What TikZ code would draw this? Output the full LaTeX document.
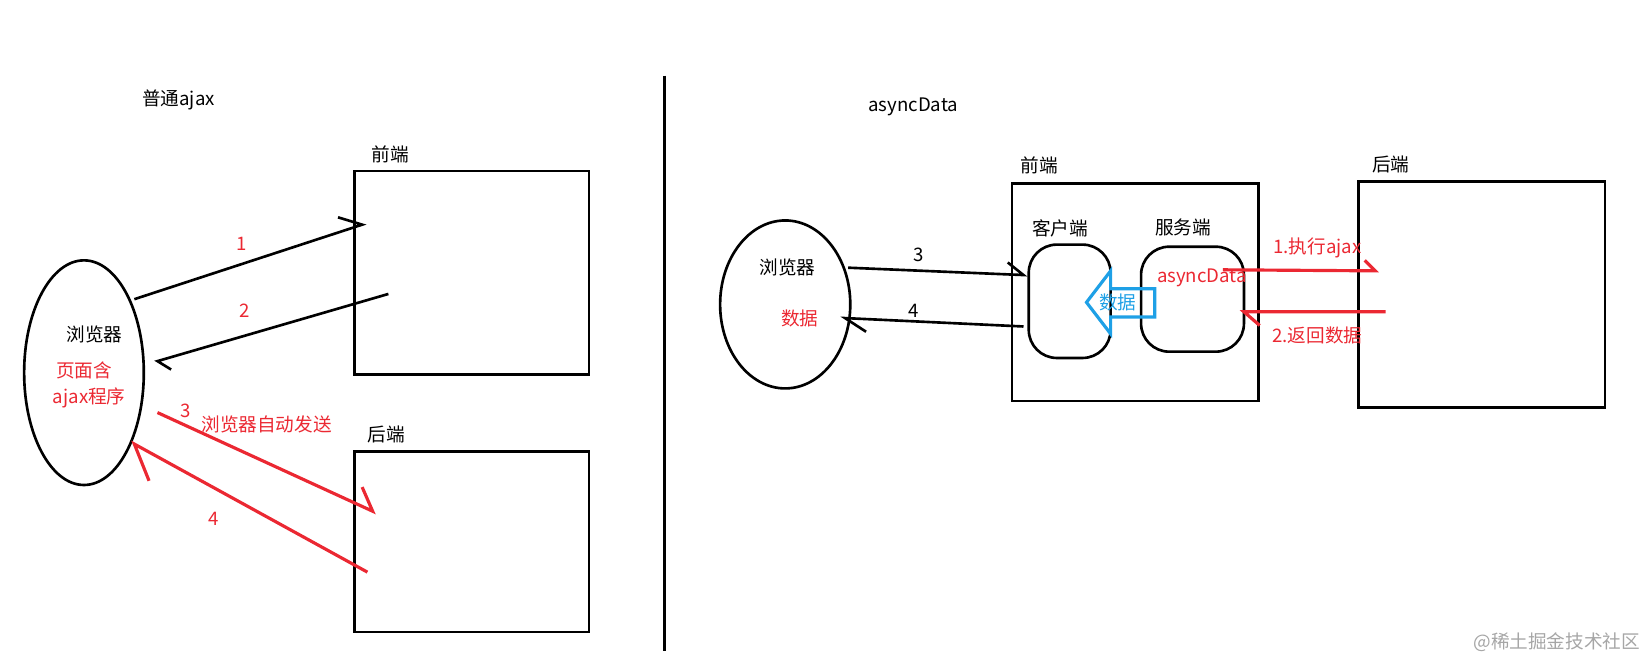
\documentclass[tikz,border=0pt]{standalone}
\usepackage{fontspec}
\setmainfont{Liberation Mono}
\newfontfamily\cjk{Noto Sans CJK SC}
\usetikzlibrary{arrows.meta}
\definecolor{rd}{RGB}{235,40,50}
\definecolor{bl}{RGB}{30,160,230}
\begin{document}
\begin{tikzpicture}[x=0.010497cm,y=-0.010497cm,
  txt/.style={font=\cjk\fontsize{5.3}{6}\selectfont,inner sep=0pt},
  rtxt/.style={txt,text=rd},
  ln/.style={line width=0.75pt},
  rln/.style={line width=0.9pt,draw=rd}]
\useasboundingbox (0,0) rectangle (1568,632);
% left
\node[txt] (t1) at (170,95) {普通ajax};
\draw[ln] (80,355) ellipse (57 and 107);
\node[draw,ln,minimum width=223*0.010497cm,minimum height=194*0.010497cm,inner sep=0pt] (fe) at (449.5,260) {};
\node[draw,ln,minimum width=223*0.010497cm,minimum height=172*0.010497cm,inner sep=0pt] (be) at (449.5,516) {};
\node[txt] (fel) at (372,147) {前端};
\node[txt] (bel) at (368,414) {后端};
\draw[ln] (633,72) -- (633,620);
\node[txt] at (90,319) {浏览器};
\node[rtxt] at (80,353) {页面含};
\node[rtxt] at (85,379) {ajax程序};
\coordinate (a1s) at (128,285); \coordinate (a1e) at (345,214);
\draw[ln] (a1s) -- (a1e) -- (322,207);
\node[rtxt] at (230,232) {1};
\coordinate (a2s) at (370,280); \coordinate (a2e) at (150,344);
\draw[ln] (a2s) -- (a2e) -- (163,352);
\node[rtxt] at (233,296) {2};
\coordinate (a3s) at (150,393); \coordinate (a3e) at (355,487);
\draw[rln] (a3s) -- (a3e) -- (345,464);
\node[rtxt] at (177,391) {3};
\node[rtxt] at (254,404) {浏览器自动发送};
\coordinate (a4s) at (350,545); \coordinate (a4e) at (128,423);
\draw[rln] (a4s) -- (a4e) -- (142,458);
\node[rtxt] at (204,494) {4};
% right
\node[txt] at (870,102) {asyncData};
\draw[ln] (748,290) ellipse (62 and 80);
\node[draw,ln,minimum width=235*0.010497cm,minimum height=207*0.010497cm,inner sep=0pt] (fe2) at (1081.5,278.5) {};
\node[draw,ln,minimum width=235*0.010497cm,minimum height=215*0.010497cm,inner sep=0pt] (be2) at (1411.5,280.5) {};
\node[txt] at (990,158) {前端};
\node[txt] at (1325,157) {后端};
\node[draw,ln,rounded corners=8pt,minimum width=78*0.010497cm,minimum height=108*0.010497cm] (cl) at (1019,287) {};
\node[draw,ln,rounded corners=8pt,minimum width=98*0.010497cm,minimum height=100*0.010497cm] (sv) at (1136,285) {};
\node[txt] at (1010,218) {客户端};
\node[txt] at (1127,217) {服务端};
\node[rtxt] at (1145,265) {asyncData};
\draw[line width=0.9pt,draw=bl] (1035,288) -- (1058,258) -- (1058,275) -- (1100,275) -- (1100,302) -- (1058,302) -- (1058,318) -- cycle;
\node[txt,text=bl] at (1065,288) {数据};
\node[txt] at (750,255) {浏览器};
\node[rtxt] at (762,303) {数据};
\draw[ln] (808,255) -- (975,262) -- (960,250);
\node[txt] at (875,243) {3};
\draw[ln] (975,311) -- (805,303) -- (825,316);
\node[txt] at (870,296) {4};
\draw[rln] (1165,257) -- (1310,258) -- (1300,248);
\node[rtxt] at (1255,236) {1.执行ajax};
\draw[rln] (1320,297) -- (1185,297) -- (1200,310);
\node[rtxt] at (1255,320) {2.返回数据};
\node[txt,text=gray!70] at (1483,612) {@稀土掘金技术社区};
\end{tikzpicture}
\end{document}
